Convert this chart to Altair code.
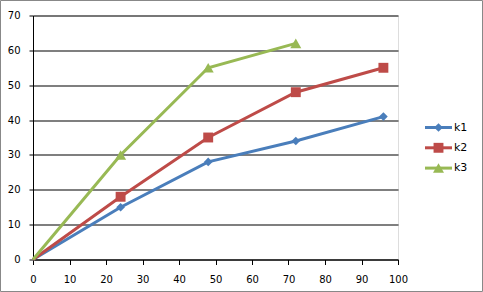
import altair as alt
import pandas as pd

series = ["k1", "k2", "k3"]
x_k1 = [0, 24, 48, 72, 96]
y_k1 = [0, 15, 28, 34, 41]
x_k2 = [0, 24, 48, 72, 96]
y_k2 = [0, 18, 35, 48, 55]
x_k3 = [0, 24, 48, 72]
y_k3 = [0, 30, 55, 62]
colors = ["#4A7EBB", "#BE4B48", "#98B954"]
shapes = ["diamond", "square", "triangle-up"]
x_ticks = list(range(0, 101, 10))
y_ticks = list(range(0, 71, 10))

rows = []
for name, xs, ys in [("k1", x_k1, y_k1), ("k2", x_k2, y_k2), ("k3", x_k3, y_k3)]:
    for xv, yv in zip(xs, ys):
        rows.append({"series": name, "x": xv, "y": yv})
df = pd.DataFrame(rows)

W, H = 365, 244
font = "DejaVu Sans"

xenc = alt.X("x:Q", scale=alt.Scale(domain=[0, 100], nice=False),
             axis=alt.Axis(values=x_ticks, title=None, grid=False, tickSize=5,
                           labelPadding=10, domainColor="black", tickColor="black",
                           labelFont=font, labelFontSize=10, labelColor="black",
                           labelFlush=False, labelOverlap=False))
yenc = alt.Y("y:Q", scale=alt.Scale(domain=[0, 70], nice=False),
             axis=alt.Axis(values=y_ticks, title=None, grid=True, gridColor="black",
                           gridOpacity=1, gridWidth=1.2, tickSize=4, labelPadding=9,
                           domainColor="black", tickColor="black",
                           labelFont=font, labelFontSize=10, labelColor="black",
                           labelOverlap=False))
cenc = alt.Color("series:N", scale=alt.Scale(domain=series, range=colors), legend=None)
senc = alt.Shape("series:N", scale=alt.Scale(domain=series, range=shapes), legend=None)
zenc = alt.Size("series:N", scale=alt.Scale(domain=series, range=[75, 121, 100]), legend=None)

lines = alt.Chart(df).mark_line(strokeWidth=3).encode(
    x=xenc, y=yenc, color=cenc, detail="series:N")
pts = alt.Chart(df).transform_filter("datum.x > 0").mark_point(
    filled=True, opacity=1).encode(x=xenc, y=yenc, color=cenc, shape=senc, size=zenc)

leg_df = pd.DataFrame({"series": series, "idx": list(range(len(series)))})
leg_base = alt.Chart(leg_df).transform_calculate(py="112 + datum.idx * 20.3")
ly = alt.Y("py:Q", scale=None, axis=None)
leg_line = leg_base.mark_rule(strokeWidth=3).encode(
    x=alt.value(392), x2=alt.value(419), y=ly, color=cenc)
leg_pt = leg_base.mark_point(filled=True, opacity=1).encode(
    x=alt.value(405.5), y=ly, color=cenc, shape=senc, size=zenc)
leg_txt = leg_base.mark_text(align="left", baseline="middle", font=font,
                             fontSize=11, color="black").encode(
    x=alt.value(421), y=ly, text="series:N")

frame = alt.Chart(pd.DataFrame({"a": [0]})).mark_rect(
    fill=None, stroke="#888888", strokeWidth=1).encode(
    x=alt.value(-32.5), x2=alt.value(449.5), y=alt.value(-15), y2=alt.value(276))

chart = alt.layer(lines, pts, leg_line, leg_pt, leg_txt, frame).properties(
    width=W, height=H,
    autosize=alt.AutoSizeParams(type="none"),
    padding={"left": 33, "top": 15.5, "right": 85, "bottom": 32.5},
).configure_view(stroke=None).configure(background="white")

chart.save("out.html", embed_options={"renderer": "svg", "actions": False})
